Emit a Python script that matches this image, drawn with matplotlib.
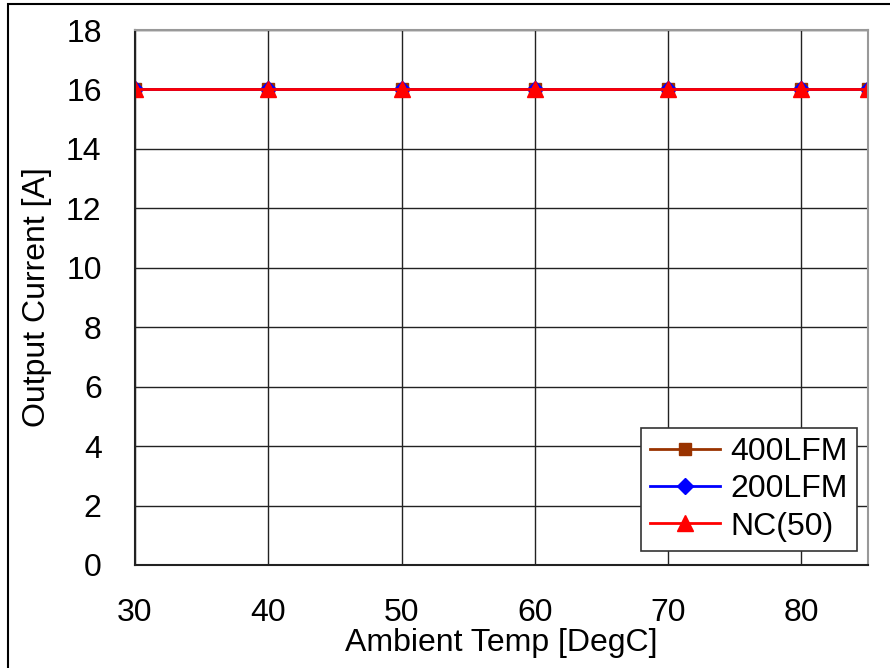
import matplotlib.pyplot as plt
from matplotlib.patches import Rectangle

# data
temps = [30, 40, 50, 60, 70, 80, 85]
lfm400 = [16, 16, 16, 16, 16, 16, 16]
lfm200 = [16, 16, 16, 16, 16, 16, 16]
nc50 = [16, 16, 16, 16, 16, 16, 16]

xticks = [30, 40, 50, 60, 70, 80]
yticks = [0, 2, 4, 6, 8, 10, 12, 14, 16, 18]

plt.rcParams['font.family'] = ['Liberation Sans', 'DejaVu Sans']

fig = plt.figure(figsize=(8.9, 6.68), dpi=100)
ax = fig.add_axes([135/890, 1-565/668, (868-135)/890, (565-30)/668])

# figure frame (left and top edge visible)
fig.patches.append(Rectangle((8/890, -0.1), 1.2, 1-4/668+0.1, transform=fig.transFigure,
                             fill=False, edgecolor='black', linewidth=1.5))

ax.plot(temps, lfm400, color='#993300', marker='s', markersize=9, linewidth=2, label='400LFM')
ax.plot(temps, lfm200, color='#0000ff', marker='D', markersize=8, linewidth=2, label='200LFM')
ax.plot(temps, nc50, color='#ff0000', marker='^', markersize=11, linewidth=2, label='NC(50)')

ax.set_xlim(30, 85)
ax.set_ylim(0, 18)
ax.set_xticks(xticks)
ax.set_yticks(yticks)
ax.tick_params(length=0, labelsize=23, pad=24)
ax.grid(True, color='#222222', linewidth=1)
ax.set_axisbelow(True)

for side in ['left', 'bottom']:
    ax.spines[side].set_color('#222222')
for side in ['top', 'right']:
    ax.spines[side].set_color('#999999')
for s in ax.spines.values():
    s.set_linewidth(1.5)

ax.set_xlabel('Ambient Temp [DegC]', fontsize=23, labelpad=0)
ax.set_ylabel('Output Current [A]', fontsize=23, labelpad=10)

leg = ax.legend(loc='lower right', bbox_to_anchor=(0.985, 0.026), fontsize=23,
                frameon=True, fancybox=False, edgecolor='#333333', framealpha=1,
                handlelength=2.2, borderaxespad=0, borderpad=0.3, labelspacing=0.22,
                handletextpad=0.3)
leg.get_frame().set_linewidth(1.2)

fig.savefig('out.png', dpi=100)
